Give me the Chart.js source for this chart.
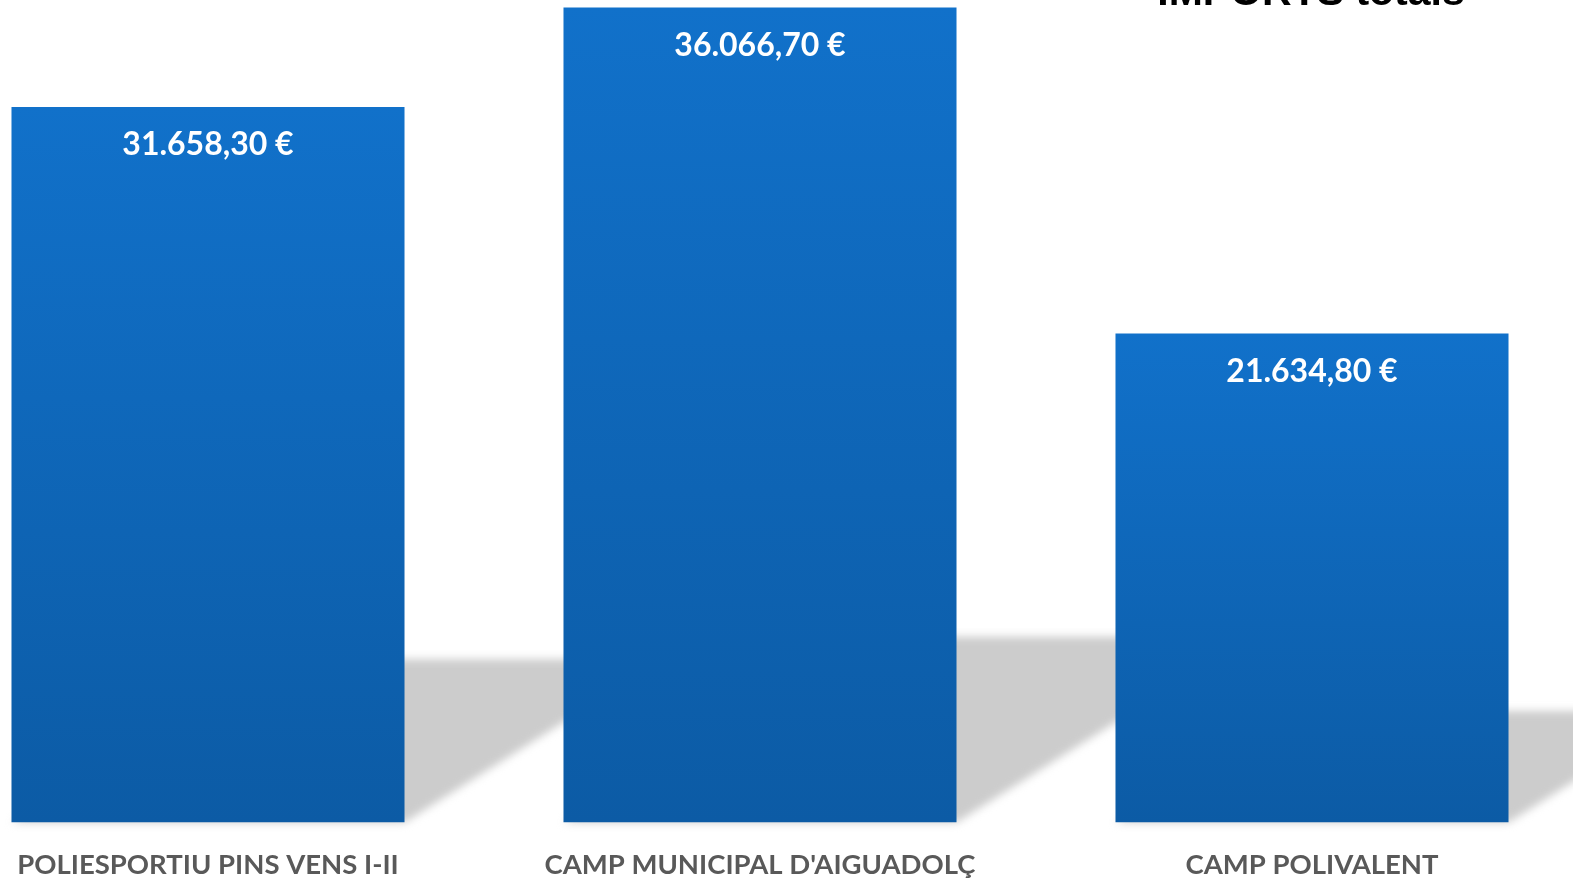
<!DOCTYPE html>
<html lang="ca">

<head>
    <meta charset="UTF-8">
    <title>IMPORTS totals</title>
    <style>
        html, body { margin: 0; padding: 0; background: #fff; overflow: hidden; }
        #wrap { position: relative; width: 1573px; height: 879px; overflow: hidden; }
        #chart { position: absolute; left: -68.5px; top: 0; }
    </style>
</head>

<body>
    <div id="wrap">
        <canvas id="chart" width="1656" height="879"></canvas>
    </div>

    <script src="https://cdn.jsdelivr.net/npm/chart.js"></script>
    <script>
        const titleText = 'IMPORTS totals';
        const categories = ['POLIESPORTIU PINS VENS I-II', "CAMP MUNICIPAL D'AIGUADOLÇ", 'CAMP POLIVALENT'];
        const imports = [31658.30, 36066.70, 21634.80];
        const yMax = 36394;

        const euro = v => v.toLocaleString('de-DE', { minimumFractionDigits: 2, maximumFractionDigits: 2 }) + ' €';

        // perspective shadow behind each bar
        const barShadow = {
            id: 'barShadow',
            beforeDatasetsDraw(chart) {
                const ctx = chart.ctx;
                ctx.save();
                ctx.fillStyle = '#cccccc';
                ctx.filter = 'blur(4px)';
                chart.getDatasetMeta(0).data.forEach(bar => {
                    const h = bar.base - bar.y;
                    const sh = h * 0.228;
                    const dx = sh / 0.63;
                    const l = bar.x - bar.width / 2, r = bar.x + bar.width / 2;
                    ctx.beginPath();
                    ctx.moveTo(l, bar.base);
                    ctx.lineTo(r, bar.base);
                    ctx.lineTo(r + dx, bar.base - sh);
                    ctx.lineTo(l + dx, bar.base - sh);
                    ctx.closePath();
                    ctx.fill();
                });
                ctx.restore();
            }
        };

        // value labels inside the bars + title over the last bar
        const valueLabels = {
            id: 'valueLabels',
            afterDatasetsDraw(chart) {
                const ctx = chart.ctx;
                ctx.save();
                ctx.fillStyle = '#ffffff';
                ctx.font = 'bold 32px Lato, "Open Sans", sans-serif';
                ctx.textAlign = 'center';
                ctx.textBaseline = 'middle';
                const meta = chart.getDatasetMeta(0);
                meta.data.forEach((bar, i) => {
                    ctx.fillText(euro(imports[i]), bar.x, bar.y + 38);
                });
                const last = meta.data[meta.data.length - 1];
                ctx.fillStyle = '#000000';
                ctx.font = 'bold 41px "Liberation Sans", Arial, sans-serif';
                ctx.textBaseline = 'alphabetic';
                ctx.fillText(titleText, last.x - 1, 5);
                ctx.restore();
            }
        };

        const ctx = document.getElementById('chart').getContext('2d');
        const chart = new Chart(ctx, {
            type: 'bar',
            data: {
                labels: categories,
                datasets: [{
                    label: 'Import',
                    data: imports,
                    borderWidth: 0,
                    categoryPercentage: 1,
                    barPercentage: 0.712,
                    backgroundColor: c => {
                        const area = c.chart.chartArea;
                        const y = c.chart.scales.y;
                        if (!area || !y || c.raw === undefined) return '#0e66b8';
                        const top = y.getPixelForValue(c.raw);
                        const g = c.chart.ctx.createLinearGradient(0, top, 0, area.bottom);
                        g.addColorStop(0, '#1171ca');
                        g.addColorStop(1, '#0c5ba5');
                        return g;
                    }
                }]
            },
            options: {
                responsive: false,
                devicePixelRatio: 1,
                animation: false,
                layout: { padding: 0 },
                plugins: {
                    legend: { display: false },
                    tooltip: { enabled: false }
                },
                scales: {
                    x: {
                        grid: { display: false, drawTicks: false },
                        border: { display: false },
                        afterFit: s => { s.height = 56.5; },
                        ticks: {
                            padding: 26,
                            maxRotation: 0,
                            autoSkip: false,
                            color: '#595959',
                            font: { family: 'Lato, "Open Sans", sans-serif', size: 27.5, weight: 'bold' }
                        }
                    },
                    y: {
                        display: false,
                        min: 0,
                        max: yMax
                    }
                }
            },
            plugins: [barShadow, valueLabels]
        });
    </script>
</body>

</html>
